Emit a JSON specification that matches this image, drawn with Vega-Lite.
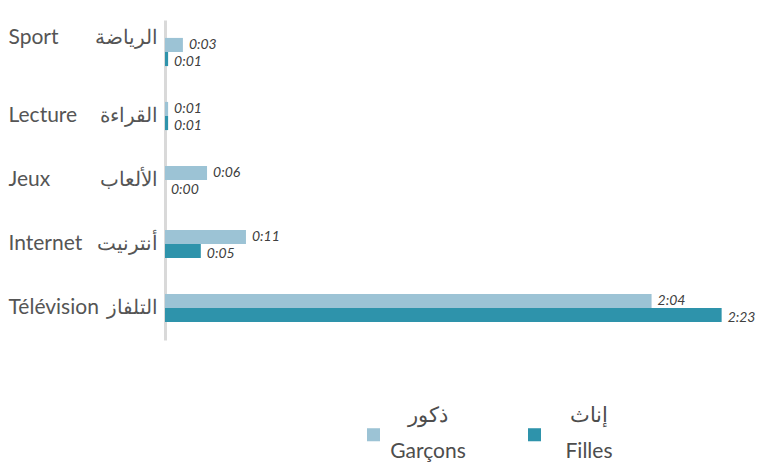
{
  "$schema": "https://vega.github.io/schema/vega-lite/v6.json",
  "autosize": "none",
  "width": 580,
  "height": 320,
  "padding": {"left": 165, "top": 20, "right": 13, "bottom": 122},
  "background": "white",
  "config": {"view": {"stroke": null}, "font": "Lato"},
  "data": {"values": [
    {"fr": "Sport", "ar": "الرياضة", "series": "Garçons", "value": 4.6, "label": "0:03"},
    {"fr": "Sport", "ar": "الرياضة", "series": "Filles", "value": 0.8, "label": "0:01"},
    {"fr": "Lecture", "ar": "القراءة", "series": "Garçons", "value": 0.8, "label": "0:01"},
    {"fr": "Lecture", "ar": "القراءة", "series": "Filles", "value": 0.8, "label": "0:01"},
    {"fr": "Jeux", "ar": "الألعاب", "series": "Garçons", "value": 10.8, "label": "0:06"},
    {"fr": "Jeux", "ar": "الألعاب", "series": "Filles", "value": 0, "label": "0:00"},
    {"fr": "Internet", "ar": "أنترنيت", "series": "Garçons", "value": 20.8, "label": "0:11"},
    {"fr": "Internet", "ar": "أنترنيت", "series": "Filles", "value": 9.2, "label": "0:05"},
    {"fr": "Télévision", "ar": "التلفاز", "series": "Garçons", "value": 125, "label": "2:04"},
    {"fr": "Télévision", "ar": "التلفاز", "series": "Filles", "value": 143, "label": "2:23"}
  ]},
  "encoding": {
    "y": {"field": "fr", "type": "nominal", "sort": ["Sport", "Lecture", "Jeux", "Internet", "Télévision"],
      "scale": {"paddingInner": 0.56, "paddingOuter": 0.28}},
    "yOffset": {"field": "series", "type": "nominal", "sort": ["Garçons", "Filles"]},
    "x": {"field": "value", "type": "quantitative", "scale": {"domain": [0, 149]}, "axis": null}
  },
  "layer": [
    {
      "mark": {"type": "bar"},
      "encoding": {
        "y": {"field": "fr", "type": "nominal", "sort": ["Sport", "Lecture", "Jeux", "Internet", "Télévision"],
          "axis": {"title": null, "orient": "left", "domain": true, "domainColor": "#d9d9d9", "domainWidth": 3, "ticks": false,
            "labelAlign": "left", "labelPadding": 157, "labelFontSize": 21, "labelColor": "#555555", "labelFont": "Lato",
            "labelOffset": {"condition": {"test": "datum.value == 'Sport'", "value": -14}, "value": 0}}},
        "color": {"field": "series", "type": "nominal", "sort": ["Garçons", "Filles"],
          "scale": {"domain": ["Garçons", "Filles"], "range": ["#9cc3d5", "#2e93ab"]},
          "legend": {"title": null, "orient": "none", "legendX": 198, "legendY": 404, "direction": "horizontal",
            "symbolType": "square", "symbolSize": 170, "symbolStrokeWidth": 0, "symbolOpacity": 1,
            "labelFontSize": 21, "labelColor": "#4d4d4d", "labelAlign": "center", "labelOffset": 44,
            "labelBaseline": "middle", "columnPadding": 58, "labelLimit": 300,
            "labelExpr": "datum.label == 'Garçons' ? ['ذكور', 'Garçons'] : ['إناث', 'Filles']",
            "encode": {"labels": {"update": {"lineHeight": {"value": 36}, "dy": {"value": -19}}}}}}
      }
    },
    {
      "transform": [{"filter": "datum.series == 'Garçons'"}],
      "mark": {"type": "text", "align": "left", "dx": 6, "dy": 0, "fontStyle": "italic", "fontSize": 14, "color": "#404040"},
      "encoding": {
        "text": {"field": "label"},
        "y": {"field": "fr", "type": "nominal", "sort": ["Sport", "Lecture", "Jeux", "Internet", "Télévision"],
          "axis": {"title": null, "orient": "left", "domain": false, "ticks": false,
            "labelExpr": "{'Sport':'الرياضة','Lecture':'القراءة','Jeux':'الألعاب','Internet':'أنترنيت','Télévision':'التلفاز'}[datum.value]",
            "labelAlign": "right", "labelPadding": 8, "labelFontSize": 20, "labelColor": "#555555",
            "labelOffset": {"condition": {"test": "datum.value == 'Sport'", "value": -14}, "value": 0}}}
      }
    },
    {
      "transform": [{"filter": "datum.series == 'Filles'"}],
      "mark": {"type": "text", "align": "left", "dx": 6, "dy": 3, "fontStyle": "italic", "fontSize": 14, "color": "#404040"},
      "encoding": {
        "text": {"field": "label"},
        "y": {"field": "fr", "type": "nominal", "sort": ["Sport", "Lecture", "Jeux", "Internet", "Télévision"], "axis": null}
      }
    }
  ],
  "resolve": {"axis": {"y": "independent"}}
}
